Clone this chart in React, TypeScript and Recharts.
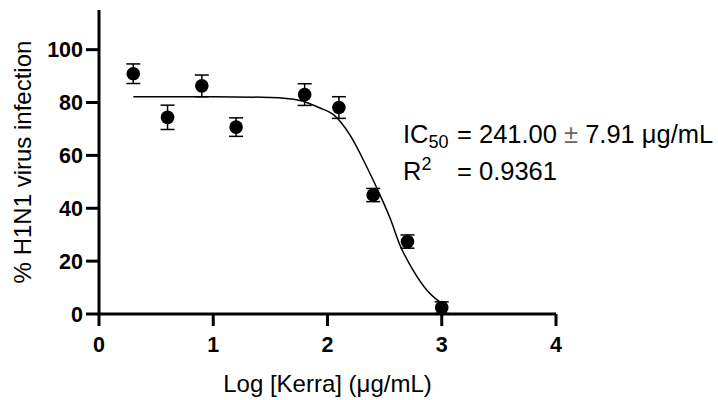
import React from 'react';
import {
  ComposedChart,
  Scatter,
  Line,
  XAxis,
  YAxis,
  ErrorBar,
  Label,
} from 'recharts';

// measured points: log concentration, % infection, SEM
const logConc = [0.3, 0.6, 0.9, 1.2, 1.8, 2.1, 2.4, 2.7, 3.0];
const infection = [90.9, 74.4, 86.3, 70.7, 83.0, 78.1, 45.0, 27.4, 2.4];
const sem = [3.7, 4.6, 4.1, 3.5, 4.1, 4.1, 2.5, 2.5, 2.2];

// fitted dose-response curve
const fitX = [0.3, 1.0, 1.5, 1.76, 1.93, 2.05, 2.2, 2.34, 2.46, 2.55, 2.63, 2.75, 2.87, 3.0];
const fitY = [82.2, 82.2, 81.9, 80.8, 78.0, 75.5, 67.5, 56.0, 45.0, 36.0, 26.5, 16.5, 9.0, 4.0];

const xTicks = [0, 1, 2, 3, 4];
const yTicks = [0, 20, 40, 60, 80, 100];

const points = logConc.map((x, i) => ({ x, y: infection[i], err: sem[i] }));
const curve = fitX.map((x, i) => ({ x, y: fitY[i] }));

const FONT = '"Liberation Sans", Arial, sans-serif';
const PLOT_LEFT = 99;
const PLOT_BOTTOM = 314;
const TICK_LEN = 12;

const Dot = (props: any) => <circle cx={props.cx} cy={props.cy} r={6.8} fill="#000" />;

const XTick = (props: any) => {
  const { x, payload } = props;
  return (
    <g>
      <line x1={x} x2={x} y1={PLOT_BOTTOM} y2={PLOT_BOTTOM + TICK_LEN} stroke="#000" strokeWidth={3} />
      <text
        x={x}
        y={PLOT_BOTTOM + 38}
        textAnchor="middle"
        fontSize={21.5}
        fontWeight={700}
        fontFamily={FONT}
        fill="#000"
      >
        {payload.value}
      </text>
    </g>
  );
};

const YTick = (props: any) => {
  const { y, payload } = props;
  return (
    <g>
      <line x1={PLOT_LEFT - TICK_LEN - 1} x2={PLOT_LEFT} y1={y} y2={y} stroke="#000" strokeWidth={3} />
      <text
        x={PLOT_LEFT - 16}
        y={y}
        dy="0.36em"
        textAnchor="end"
        fontSize={21.5}
        fontWeight={700}
        fontFamily={FONT}
        fill="#000"
      >
        {payload.value}
      </text>
    </g>
  );
};

export default function App() {
  return (
    <div style={{ position: 'absolute', left: 0, top: 0, width: 718, height: 400, background: '#fff' }}>
      <ComposedChart
        width={718}
        height={400}
        margin={{ top: 10, right: 162, bottom: 0, left: 0 }}
      >
        <XAxis
          type="number"
          dataKey="x"
          domain={[0, 4]}
          ticks={xTicks}
          height={86}
          axisLine={{ stroke: '#000', strokeWidth: 3 }}
          tickLine={false}
          tick={<XTick />}
          allowDataOverflow
        >
          <Label
            value="Log [Kerra] (μg/mL)"
            position="center"
            dy={26}
            style={{ fill: '#000', fontSize: 24, fontFamily: FONT }}
          />
        </XAxis>
        <YAxis
          type="number"
          dataKey="y"
          domain={[0, 115]}
          ticks={yTicks}
          width={99}
          axisLine={{ stroke: '#000', strokeWidth: 3 }}
          tickLine={false}
          tick={<YTick />}
          allowDataOverflow
        >
          <Label
            value="% H1N1 virus infection"
            angle={-90}
            position="center"
            dx={-27}
            style={{ fill: '#000', fontSize: 24, fontFamily: FONT, textAnchor: 'middle' }}
          />
        </YAxis>
        <Line
          data={curve}
          dataKey="y"
          type="monotone"
          stroke="#000"
          strokeWidth={1.5}
          dot={false}
          activeDot={false}
          isAnimationActive={false}
        />
        <Scatter data={points} dataKey="y" shape={Dot} isAnimationActive={false}>
          <ErrorBar dataKey="err" direction="y" width={7} stroke="#000" strokeWidth={1.5} />
        </Scatter>
      </ComposedChart>
      <svg
        width={718}
        height={400}
        style={{ position: 'absolute', left: 0, top: 0, pointerEvents: 'none' }}
        fontFamily={FONT}
      >
        <text x={403} y={143} fontSize={25.5} fill="#000">
          IC<tspan fontSize={18} dy={5}>50</tspan>
        </text>
        <text x={457} y={143} fontSize={25.5} fill="#000">
          = 241.00 <tspan fill="#666">±</tspan> 7.91 μg/mL
        </text>
        <text x={403} y={180} fontSize={25.5} fill="#000">
          R<tspan fontSize={18} dy={-10}>2</tspan>
        </text>
        <text x={457} y={180} fontSize={25.5} fill="#000">
          = 0.9361
        </text>
      </svg>
    </div>
  );
}
